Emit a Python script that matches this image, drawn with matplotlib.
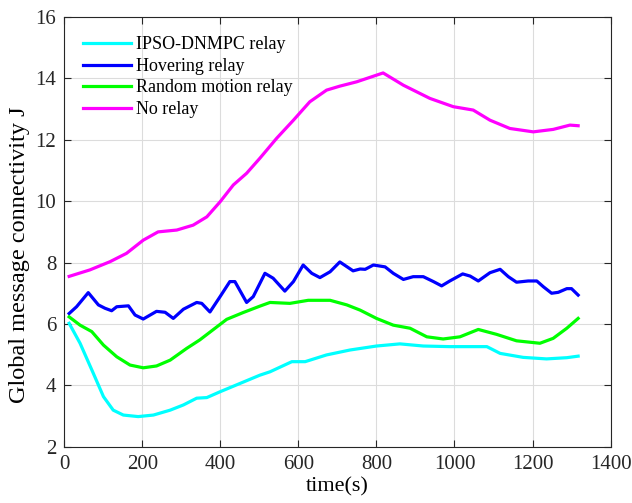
import matplotlib.pyplot as plt
import numpy as np

plt.rcParams['font.family'] = ['Liberation Serif', 'DejaVu Serif']

# IPSO-DNMPC relay
t_ipso = [12, 40, 74, 100, 125, 151, 189, 228, 271, 305, 339, 365, 399, 450, 501,
          527, 583, 617, 672, 732, 800, 860, 920, 988, 1083, 1117, 1176, 1236, 1288, 1317]
j_ipso = [6.02, 5.37, 4.39, 3.63, 3.19, 3.03, 2.98, 3.03, 3.19, 3.36, 3.58, 3.60, 3.79, 4.06, 4.33,
          4.44, 4.77, 4.77, 4.99, 5.15, 5.28, 5.35, 5.28, 5.26, 5.26, 5.04, 4.91, 4.86, 4.90, 4.95]

# Hovering relay
t_hover = [12, 31, 61, 87, 104, 121, 134, 164, 181, 202, 236, 258, 279, 305, 339, 352, 373,
           399, 424, 437, 467, 484, 514, 535, 565, 587, 612, 634, 655, 681, 706, 740, 758, 771,
           792, 822, 843, 869, 894, 920, 946, 967, 988, 1021, 1040, 1061, 1091, 1117, 1138,
           1159, 1189, 1211, 1228, 1249, 1266, 1288, 1300, 1317]
j_hover = [6.34, 6.56, 7.02, 6.62, 6.51, 6.43, 6.56, 6.59, 6.29, 6.16, 6.41, 6.38, 6.18, 6.48,
           6.70, 6.67, 6.39, 6.89, 7.38, 7.38, 6.70, 6.89, 7.65, 7.49, 7.07, 7.38, 7.92, 7.65,
           7.51, 7.70, 8.02, 7.73, 7.79, 7.78, 7.92, 7.86, 7.65, 7.45, 7.54, 7.54, 7.38, 7.24,
           7.40, 7.63, 7.56, 7.40, 7.67, 7.78, 7.54, 7.36, 7.40, 7.40, 7.21, 7.00, 7.03, 7.15,
           7.15, 6.94]

# Random motion relay
t_rand = [12, 40, 70, 100, 134, 168, 202, 236, 271, 313, 347, 382, 416, 458, 501, 527, 578,
          625, 681, 724, 758, 800, 843, 886, 929, 971, 1014, 1061, 1108, 1159, 1219, 1253,
          1288, 1317]
j_rand = [6.23, 5.96, 5.75, 5.31, 4.93, 4.66, 4.57, 4.63, 4.82, 5.20, 5.48, 5.82, 6.15, 6.37,
          6.58, 6.70, 6.67, 6.77, 6.77, 6.62, 6.45, 6.18, 5.96, 5.86, 5.58, 5.51, 5.58, 5.82,
          5.66, 5.45, 5.37, 5.53, 5.86, 6.18]

# No relay
t_none = [12, 65, 117, 159, 202, 240, 288, 330, 365, 399, 433, 467, 501, 544, 587, 629, 672,
          706, 749, 817, 869, 937, 997, 1048, 1091, 1142, 1202, 1253, 1296, 1317]
j_none = [7.55, 7.76, 8.03, 8.30, 8.73, 9.00, 9.06, 9.22, 9.49, 9.98, 10.53, 10.91, 11.40,
          12.05, 12.64, 13.24, 13.62, 13.75, 13.89, 14.18, 13.78, 13.35, 13.08, 12.97, 12.64,
          12.37, 12.26, 12.34, 12.48, 12.46]

fig = plt.figure(figsize=(6.32, 5.03), dpi=100)
ax = fig.add_axes([0.102, 0.112, 0.864, 0.854])

lw = 2.3
ax.plot(t_ipso, j_ipso, color='#00ffff', lw=lw, label='IPSO-DNMPC relay')
ax.plot(t_hover, j_hover, color='#0000ff', lw=lw, label='Hovering relay')
ax.plot(t_rand, j_rand, color='#00ff00', lw=lw, label='Random motion relay')
ax.plot(t_none, j_none, color='#ff00ff', lw=lw, label='No relay')

ax.set_xlim(0, 1400)
ax.set_ylim(2, 16)
ax.set_xticks(np.arange(0, 1401, 200))
ax.set_yticks(np.arange(2, 17, 2))
ax.grid(True, color='#dcdcdc', lw=0.8)
ax.tick_params(direction='in', top=True, right=True, length=5, labelsize=15,
               colors='#262626', pad=6)
for s in ax.spines.values():
    s.set_color('#262626')
    s.set_linewidth(0.8)

ax.set_xlabel('time(s)', fontsize=16, labelpad=2)
ax.set_ylabel('Global message connectivity J', fontsize=17.5)
ax.yaxis.set_label_coords(-0.063, 0.447)

ax.legend(loc='upper left', frameon=False, fontsize=13, handlelength=2.65,
          handletextpad=0.3, labelspacing=0.25, borderaxespad=0, borderpad=0,
          bbox_to_anchor=(0.034, 0.955))

fig.savefig('out.png', dpi=100)
